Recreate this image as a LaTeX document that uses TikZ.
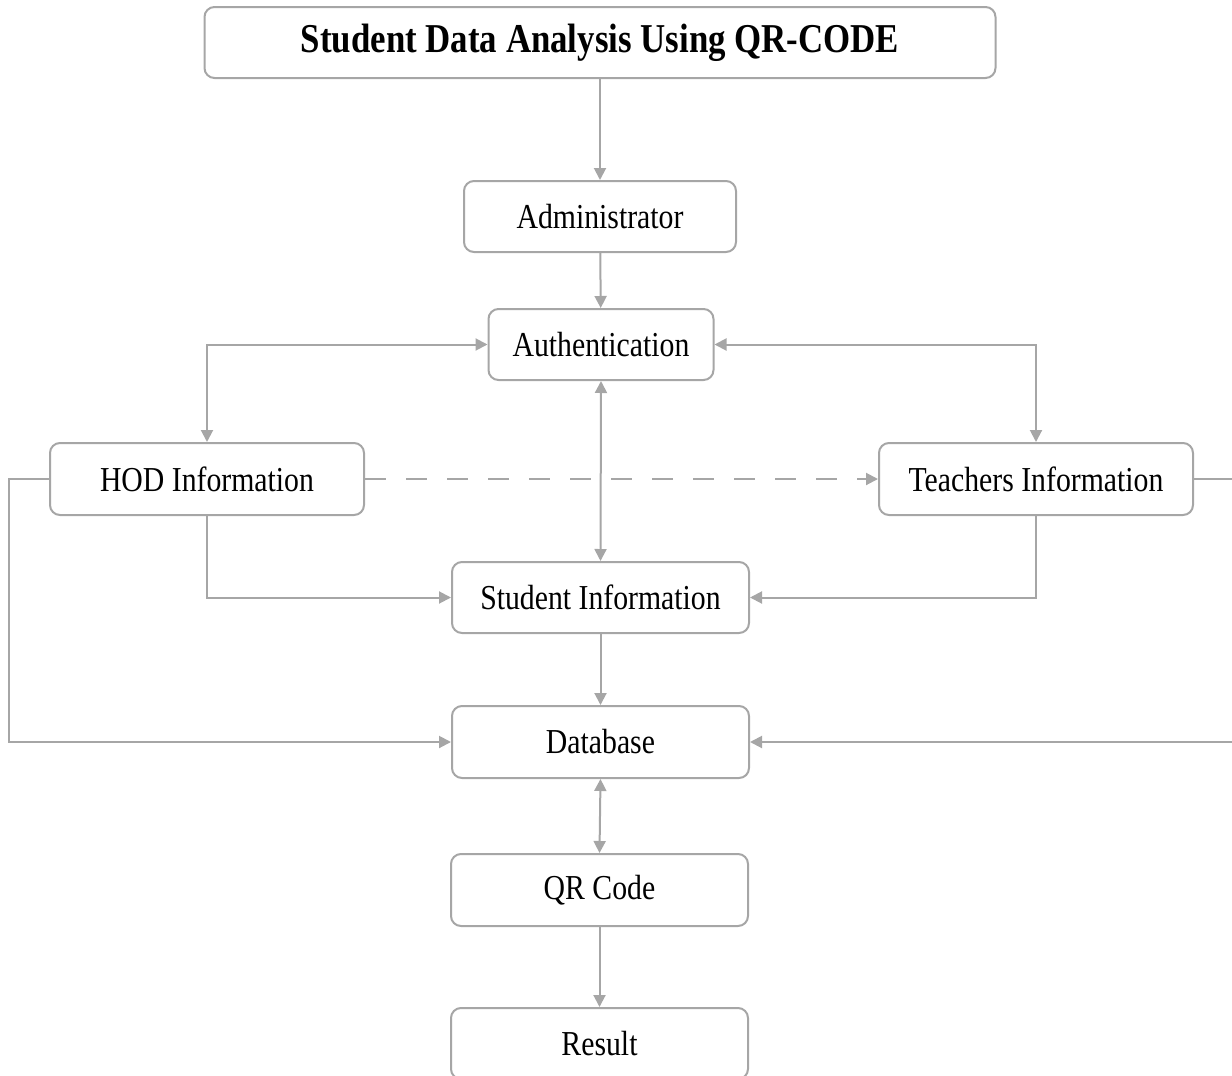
\documentclass[tikz,border=0pt]{standalone}
\usepackage{fontspec}
\setmainfont{Liberation Serif}[FakeStretch=0.85]
\usepackage{xcolor}
\usepackage{tikz}
\usetikzlibrary{arrows.meta}
\usetikzlibrary{calc}

\definecolor{linegray}{RGB}{166,166,166}

\tikzset{
	box/.style={draw=linegray,line width=1pt,rounded corners=5pt,fill=white,inner sep=0pt,minimum height=35.5pt,font=\fontsize{17.5}{20}\selectfont},
	link/.style={draw=linegray,line width=1pt,-{Triangle[length=6pt,width=6pt]}},
	twoway/.style={link,{Triangle[length=6pt,width=6pt]}-{Triangle[length=6pt,width=6pt]}}
}

\begin{document}
\begin{tikzpicture}[x=0.5pt,y=-0.5pt]
	\useasboundingbox (0,0) rectangle (1232,1076);
	\clip (0,0) rectangle (1232,1076);
	
	\node[box,minimum width=395.5pt,font=\fontsize{20.5}{24}\selectfont\bfseries] (title) at (600,42.5) {Student Data Analysis Using QR-CODE};
	\node[box,minimum width=136pt] (admin) at (600,216.5) {Administrator};
	\node[box,minimum width=112.5pt] (auth) at (601,344.5) {Authentication};
	\node[box,minimum width=157pt,minimum height=36pt] (hod) at (207,479) {HOD Information};
	\node[box,minimum width=157pt,minimum height=36pt] (teach) at (1036,479) {Teachers Information};
	\node[box,minimum width=148.5pt] (student) at (600.5,597.5) {Student Information};
	\node[box,minimum width=148.5pt,minimum height=36pt] (db) at (600.5,742) {Database};
	\node[box,minimum width=148.5pt,minimum height=36pt] (qr) at (599.5,890) {QR Code};
	\node[box,minimum width=148.5pt] (result) at (599.5,1043.5) {Result};
	
	% top chain
	\draw[link] (title) -- (admin);
	\draw[link] (admin) -- (auth);
	\draw[twoway] (hod.north) |- (auth.west);
	\draw[twoway] (teach.north) |- (auth.east);
	\draw[twoway] (auth.south) -- (student.north);
	\draw[link,dash pattern=on 10.5pt off 10pt] (hod.east) -- (teach.west);
	
	% into student and database
	\draw[link] (hod.south) |- (student.west);
	\draw[link] (teach.south) |- (student.east);
	\draw[link] (student) -- (db);
	\draw[link] (hod.west) -- ++(-40,0) |- (db.west);
	\draw[link] (teach.east) -- ++(60,0) |- (db.east);
	
	% output
	\draw[twoway] (db.south) -- (qr.north);
	\draw[link] (qr) -- (result);
	
\end{tikzpicture}
\end{document}
